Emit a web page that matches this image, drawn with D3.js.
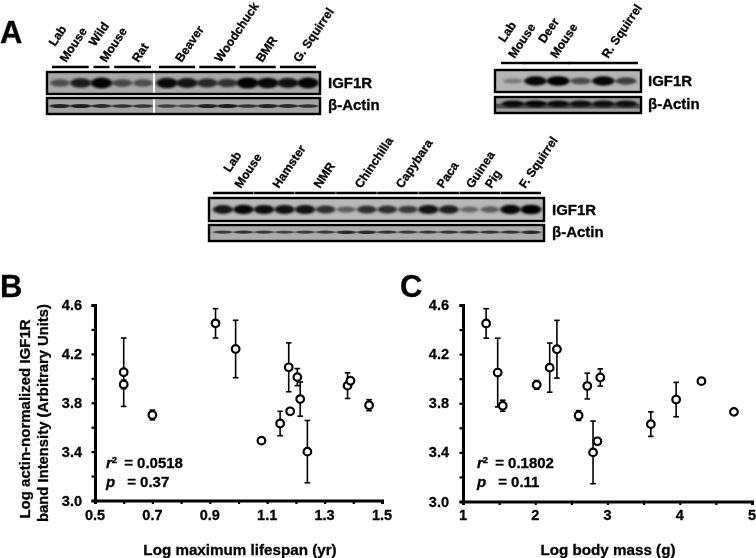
<!DOCTYPE html>
<html><head><meta charset="utf-8">
<script src="https://cdn.jsdelivr.net/npm/d3@7"></script>
<style>
html,body{margin:0;padding:0;background:#fff}
svg{display:block;filter:blur(0.4px)}
text{font-family:"Liberation Sans",Arial,sans-serif;font-weight:bold;fill:#000;stroke:#000;stroke-width:0.3px}
</style></head><body><svg id="c" width="756" height="558"></svg>
<script>
// ---- scatter data ----
const lifespan = [0.6,0.6,0.7,0.92,0.99,1.08,1.145,1.18,1.175,1.205,1.215,1.24,1.38,1.39,1.455];
const bodyMass = [1.48,2.02,2.6,1.32,2.3,2.86,3.6,4.75,2.2,2.9,3.95,2.8,2.72,4.3,1.55];
const igf1r    = [4.05,3.95,3.70,4.45,4.24,3.49,3.63,3.73,4.09,4.01,3.83,3.40,3.94,3.98,3.78];
const errs     = [0.28,0.035,0.04,0.12,0.235,0,0.1,0,0.2,0.07,0.14,0.255,0.105,0,0.045];
const yTicks = [3.0,3.4,3.8,4.2,4.6];
const xTicksB = [0.5,0.7,0.9,1.1,1.3,1.5];
const xTicksC = [1,2,3,4,5];
// ---- blot data (band darkness per lane, 0..1) ----
const blot1Igf = [0.45,0.8,0.98,0.5,0.45,0.92,0.85,0.72,0.65,1,0.95,0.88,0.97];
const blot1Act = [0.75,0.8,0.7,0.65,0.65,0.55,0.5,0.75,0.8,0.65,0.75,0.7,0.65];
const blot2Igf = [0.2,0.95,1,0.5,0.95,0.6];
const blot2Act = [0.95,1,0.95,0.9,0.9,0.9];
const blot3Igf = [0.85,0.95,0.92,0.88,0.88,0.7,0.4,0.7,0.7,0.62,0.88,0.8,0.35,0.42,0.95,1];
const blot3Act = [0.6,0.65,0.6,0.55,0.6,0.6,0.7,0.7,0.65,0.6,0.6,0.65,0.65,0.65,0.65,0.7];
const groups1 = [[0,1,"Lab","Mouse"],[2,2,"Wild","Mouse"],[3,4,"Rat"],[5,6,"Beaver"],[7,8,"Woodchuck"],[9,10,"BMR"],[11,12,"G. Squirrel"]];
const groups2 = [[0,0,"Lab","Mouse"],[1,2,"Deer","Mouse"],[3,5,"R. Squirrel"]];
const groups3 = [[0,1,"Lab","Mouse"],[2,3,"Hamster"],[4,5,"NMR"],[6,7,"Chinchilla"],[8,9,"Capybara"],[10,11,"Paca"],[12,13,"Guinea","Pig"],[14,15,"F. Squirrel"]];

const svg = d3.select("#c");
const defs = svg.append("defs");
[["b1",1.7,1.1],["b2",1.4,0.7]].forEach(([id,sx,sy])=>{
  defs.append("filter").attr("id",id).attr("x","-30%").attr("y","-80%").attr("width","160%").attr("height","260%")
    .append("feGaussianBlur").attr("stdDeviation",sx+" "+sy);
});

function label(g,s,x,y,size,rot){
  const t=g.append("text").attr("font-size",size).text(s);
  if(rot!=null) t.attr("transform",`translate(${x},${y}) rotate(${rot})`); else t.attr("x",x).attr("y",y);
  return t;
}

function blot(cfg){
  const g=svg.append("g");
  const lane=d3.scaleLinear().domain(cfg.dom).range(cfg.ran);
  const nudge=4.5, rot=-56, fs=12.2;
  function panel(vals,y0,y1,bg,rx,ry,hasGap,yOff){
    const cp="cp"+cfg.id+y0;
    defs.append("clipPath").attr("id",cp).append("rect").attr("x",cfg.x0).attr("y",y0).attr("width",cfg.x1-cfg.x0).attr("height",y1-y0);
    const inner=g.append("g").attr("clip-path",`url(#${cp})`);
    inner.append("rect").attr("x",cfg.x0).attr("y",y0).attr("width",cfg.x1-cfg.x0).attr("height",y1-y0).attr("fill",bg);
    const yc=d3.scaleLinear().domain([0,1]).range([y0,y1]);
    inner.selectAll("ellipse").data(vals).join("ellipse")
      .attr("cx",(d,i)=>lane(i)).attr("cy",yc(yOff))
      .attr("rx",d=>rx*(0.85+0.2*d)).attr("ry",d=>ry*(0.45+0.65*d))
      .attr("fill","#000").attr("opacity",d=>0.15+0.85*d)
      .attr("filter",ry>2.5?"url(#b1)":"url(#b2)");
    if(cfg.smear&&ry===cfg.abry) inner.append("rect").attr("x",cfg.x0).attr("y",yc(0.42)).attr("width",cfg.x1-cfg.x0).attr("height",ry*1.6).attr("fill","#111").attr("opacity",0.5).attr("filter","url(#b2)");
    if(hasGap) inner.append("rect").attr("x",cfg.gap-1).attr("y",y0).attr("width",2).attr("height",y1-y0).attr("fill","#fff");
    g.append("rect").attr("x",cfg.x0).attr("y",y0).attr("width",cfg.x1-cfg.x0).attr("height",y1-y0)
      .attr("fill","none").attr("stroke","#000").attr("stroke-width",2.4);
  }
  panel(cfg.igf,cfg.iy[0],cfg.iy[1],cfg.bg,cfg.brx,cfg.bry,!!cfg.gap,0.5);
  panel(cfg.act,cfg.ay[0],cfg.ay[1],cfg.abg,cfg.brx,cfg.abry,!!cfg.gap,cfg.aOff);
  label(g,"IGF1R",cfg.lx,cfg.iy[1]-6,15);
  label(g,"β-Actin",cfg.lx,cfg.ay[1]-4,15);
  cfg.groups.forEach((gr,i)=>{
    const a=lane(gr[0])-cfg.barPad, b=lane(gr[1])+cfg.barPad;
    g.append("line").attr("x1",a).attr("x2",b).attr("y1",cfg.barY).attr("y2",cfg.barY).attr("stroke","#000").attr("stroke-width",2.4);
    const off=cfg.offs[i];
    if(gr.length===3) label(g,gr[2],(a+b)/2+off[0]+nudge,cfg.barY-4,fs,rot);
    else {
      label(g,gr[3],(a+b)/2+off[0]+nudge,cfg.barY-4,fs,rot);
      label(g,gr[2],(a+b)/2+off[1]+nudge,cfg.barY-4-off[2],fs,rot);
    }
  });
}
blot({id:1,x0:47,x1:320,iy:[72,94],ay:[98,114],bg:"#a8a8a8",abg:"#a2a2a2",brx:10.5,bry:5,abry:2.1,aOff:0.5,
  dom:[0,4,5,12],ran:[60,143,167,308],gap:154,igf:blot1Igf,act:blot1Act,lx:328,groups:groups1,barPad:8,barY:67,
  offs:[[-9,-20,16],[0,-11,16],[1],[0],[-1],[0],[-3]]});
blot({id:2,x0:495,x1:641,iy:[70,92],ay:[97,113],bg:"#b4b4b4",abg:"#9a9a9a",brx:11,bry:4.4,abry:3,aOff:0.42,smear:true,
  dom:[0,5],ran:[513,626],igf:blot2Igf,act:blot2Act,lx:648,groups:groups2,barPad:12,barY:63,
  offs:[[-3,-13,16],[5,-7,15],[0]]});
blot({id:3,x0:209,x1:544,iy:[198,221],ay:[225,241],bg:"#b8b8b8",abg:"#acacac",brx:10,bry:4.4,abry:1.9,aOff:0.45,
  dom:[0,15],ran:[223,531],igf:blot3Igf,act:blot3Act,lx:552,groups:groups3,barPad:10,barY:193,
  offs:[[3,-8,16],[0],[0],[0],[0],[0],[7,-12,0],[0]]});

function scatter(cfg){
  const g=svg.append("g");
  const x=d3.scaleLinear().domain(cfg.xd).range(cfg.xr);
  const y=d3.scaleLinear().domain([3,4.6]).range([cfg.yBase,305]);
  const ax=g.append("g").attr("transform",`translate(0,${cfg.yBase})`)
    .call(d3.axisBottom(x).tickValues(d3.range(cfg.xd[0],cfg.xd[1]+1e-9,cfg.xMinor)).tickSize(3.5).tickFormat(""));
  const ay=g.append("g").attr("transform",`translate(${cfg.xr[0]},0)`)
    .call(d3.axisLeft(y).tickValues(d3.range(3,4.6+1e-9,0.2)).tickSize(3.5).tickFormat(""));
  [ax,ay].forEach(a=>{a.selectAll("path").attr("stroke","#000").attr("stroke-width",3);
    a.selectAll("line").attr("stroke","#000").attr("stroke-width",2.2);});
  yTicks.forEach(v=>label(g,v.toFixed(1),cfg.yLabX,y(v)+5,14.5).attr("text-anchor","end"));
  cfg.xTicks.forEach(v=>label(g,cfg.fmt(v),x(v),520,14.5).attr("text-anchor","middle"));
  label(g,cfg.xTitle,cfg.xTitleX,555,15.2).attr("text-anchor","middle");
  const e=g.append("g").attr("stroke","#000").attr("stroke-width",1.6);
  cfg.xs.forEach((xv,i)=>{
    const h=errs[i]; if(!h) return;
    const px=x(xv);
    e.append("line").attr("x1",px).attr("x2",px).attr("y1",y(igf1r[i]-h)).attr("y2",y(igf1r[i]+h));
    [igf1r[i]-h,igf1r[i]+h].forEach(v=>e.append("line").attr("x1",px-2.8).attr("x2",px+2.8).attr("y1",y(v)).attr("y2",y(v)));
  });
  g.selectAll("circle").data(cfg.xs).join("circle")
    .attr("cx",d=>x(d)).attr("cy",(d,i)=>y(igf1r[i])).attr("r",3.8)
    .attr("fill","#fff").attr("stroke","#000").attr("stroke-width",2.2);
  const t1=g.append("text").attr("x",cfg.sx).attr("y",468).attr("font-size",15);
  t1.append("tspan").attr("font-style","italic").text("r");
  t1.append("tspan").attr("font-size",9.5).attr("dy",-5).text("2");
  t1.append("tspan").attr("dy",5).attr("dx",7).text("= "+cfg.r2);
  const t2=g.append("text").attr("x",cfg.sx).attr("y",487).attr("font-size",15);
  t2.append("tspan").attr("font-style","italic").text("p");
  t2.append("tspan").attr("dx",12).text("= "+cfg.p);
}
scatter({xd:[0.5,1.5],xr:[95,382],yBase:500.5,xMinor:0.1,xs:lifespan,xTicks:xTicksB,fmt:d=>d.toFixed(1),
  yLabX:82,xTitle:"Log maximum lifespan (yr)",xTitleX:240,sx:106,r2:"0.0518",p:"0.37"});
scatter({xd:[1,5],xr:[463,752],yBase:501.5,xMinor:0.5,xs:bodyMass,xTicks:xTicksC,fmt:d=>d3.format("d")(d),
  yLabX:449,xTitle:"Log body mass (g)",xTitleX:608,sx:477,r2:"0.1802",p:"0.11"});

label(svg,"Log actin-normalized IGF1R",30,419,15,-90).attr("text-anchor","middle");
label(svg,"band Intensity (Arbitrary Units)",48,413,14.8,-90).attr("text-anchor","middle");
label(svg,"A",0,43,31); label(svg,"B",0,297,31); label(svg,"C",400,297,31);
</script></body></html>
